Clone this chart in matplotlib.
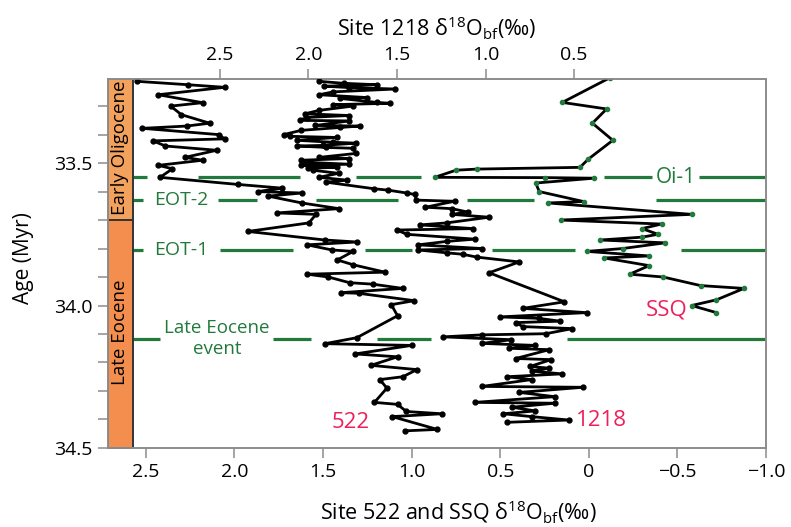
import matplotlib
matplotlib.use("Agg")
import matplotlib.pyplot as plt
from matplotlib.ticker import MultipleLocator

plt.rcParams["font.family"] = ["Open Sans", "DejaVu Sans"]
plt.rcParams["mathtext.fontset"] = "custom"
plt.rcParams["mathtext.rm"] = "Open Sans"
plt.rcParams["mathtext.it"] = "Open Sans"
plt.rcParams["mathtext.bf"] = "Open Sans"

# ---------------------------------------------------------------------------
# data: delta18O (permil) vs age (Myr)
# ---------------------------------------------------------------------------
# Site 522 (bottom axis)
d522 = [2.55, 2.26, 2.055, 2.43, 2.18, 2.36, 2.30, 2.14, 2.27, 2.52, 2.09, 2.055,
        2.46, 2.39, 2.10, 2.28, 2.18, 2.43, 2.35, 2.42, 1.98, 1.73, 1.87, 1.62,
        1.81, 1.62, 1.41, 1.76, 1.54, 1.58, 1.925, 1.49, 1.31, 1.59, 1.45, 1.33,
        1.42, 1.33, 1.15, 1.59, 1.47, 1.35, 1.22, 1.05, 1.40, 1.30, 0.985, 1.115,
        1.08, 1.31, 1.49, 1.00, 1.32, 1.08, 1.23, 0.97, 1.05, 1.18, 1.14, 1.21,
        1.08, 1.03, 0.83, 1.11, 0.855, 1.04]
age522 = [33.213, 33.225, 33.234, 33.26, 33.288, 33.30, 33.33, 33.36, 33.37, 33.378,
          33.40, 33.415, 33.422, 33.44, 33.455, 33.48, 33.49, 33.508, 33.52, 33.55,
          33.575, 33.588, 33.60, 33.605, 33.616, 33.64, 33.66, 33.675, 33.68, 33.71,
          33.74, 33.77, 33.777, 33.787, 33.805, 33.81, 33.84, 33.857, 33.883, 33.89,
          33.90, 33.92, 33.925, 33.94, 33.955, 33.957, 33.983, 33.997, 34.036, 34.113,
          34.134, 34.14, 34.17, 34.18, 34.21, 34.225, 34.25, 34.26, 34.29, 34.34,
          34.347, 34.372, 34.38, 34.39, 34.435, 34.44]

# Site 1218 (top axis)
d1218 = [1.94, 1.80, 1.61, 1.91, 1.77, 1.51, 1.86, 1.94, 1.67, 1.82, 1.615, 1.54,
         1.86, 1.75, 1.94, 2.02, 1.77, 2.01, 2.05, 1.77, 1.96, 1.71, 1.82, 2.04,
         2.14, 2.105, 1.84, 2.065, 1.86, 1.73, 1.92, 2.065, 1.90, 1.75, 1.73, 1.94,
         1.77, 2.04, 2.02, 1.77, 2.04, 1.84, 2.00, 1.975, 1.83, 1.94, 1.78, 1.90,
         1.63, 1.55, 1.445, 1.40, 1.39, 1.175, 1.34, 1.19, 1.10, 1.19, 0.98, 1.22,
         1.37, 1.07, 1.50, 1.445, 1.06, 1.22, 1.38, 1.02, 1.38, 1.22, 1.13, 1.05,
         0.81, 0.98, 0.555, 0.79, 0.43, 0.92, 0.70, 0.58, 0.83, 0.79, 0.51, 0.66,
         1.02, 1.24, 0.855, 1.02, 0.72, 0.87, 0.64, 0.83, 0.63, 0.75, 0.64, 0.74,
         0.57, 0.88, 0.74, 1.02, 0.45, 0.81, 0.61, 1.06, 0.61, 0.85, 0.72, 0.90,
         0.74, 0.53, 0.88]
age1218 = [33.213, 33.22, 33.225, 33.23, 33.235, 33.24, 33.25, 33.26, 33.27, 33.273,
           33.287, 33.29, 33.295, 33.30, 33.315, 33.327, 33.333, 33.34, 33.35, 33.352,
           33.368, 33.37, 33.375, 33.385, 33.40, 33.406, 33.41, 33.42, 33.427, 33.43,
           33.438, 33.44, 33.445, 33.448, 33.466, 33.48, 33.484, 33.49, 33.497, 33.504,
           33.508, 33.515, 33.518, 33.525, 33.536, 33.55, 33.56, 33.567, 33.59, 33.595,
           33.605, 33.61, 33.63, 33.634, 33.655, 33.66, 33.672, 33.68, 33.69, 33.71,
           33.717, 33.73, 33.735, 33.75, 33.767, 33.775, 33.787, 33.80, 33.805, 33.815,
           33.82, 33.83, 33.847, 33.885, 33.987, 34.01, 34.025, 34.04, 34.045, 34.055,
           34.06, 34.074, 34.081, 34.099, 34.103, 34.11, 34.12, 34.133, 34.14, 34.15,
           34.155, 34.186, 34.19, 34.214, 34.22, 34.23, 34.24, 34.25, 34.26, 34.284,
           34.287, 34.305, 34.32, 34.34, 34.343, 34.357, 34.37, 34.38, 34.39, 34.402,
           34.41]

# SSQ (bottom axis)
dssq = [-0.12, 0.15, -0.10, -0.02, -0.135, 0.005, 0.05, 0.63, 0.75, 0.87, 0.25,
        -0.03, 0.30, 0.28, 0.03, 0.23, -0.58, 0.16, -0.41, -0.30, -0.39, -0.30,
        -0.065, -0.43, -0.19, 0.012, -0.34, -0.086, -0.34, -0.23, -0.42, -0.63,
        -0.875, -0.72, -0.58, -0.72]
agessq = [33.20, 33.287, 33.31, 33.36, 33.42, 33.487, 33.515, 33.521, 33.525, 33.55,
          33.551, 33.553, 33.57, 33.60, 33.635, 33.64, 33.68, 33.70, 33.714, 33.73,
          33.75, 33.76, 33.77, 33.78, 33.80, 33.81, 33.826, 33.833, 33.86, 33.89,
          33.90, 33.93, 33.94, 33.98, 34.0, 34.025]

# events: age and broken-line segments (bottom-axis units)
event_names = ["Oi-1", "EOT-2", "EOT-1", "Late Eocene\nevent"]
event_ages = [33.55, 33.63, 33.805, 34.116]
event_segs = [
    [(2.573, 2.494), (2.207, 1.632), (1.317, 0.945), (-0.086, -0.356), (-0.621, -1.0)],
    [(2.573, 2.517), (2.094, 1.875), (1.542, 1.075), (0.686, 0.308), (-0.379, -1.0)],
    [(2.573, 2.517), (2.083, 1.672), (1.266, 1.001), (0.545, 0.077), (-0.52, -1.0)],
    [(2.573, 2.421), (1.784, 1.570), (1.193, 0.889), (0.123, -1.0)],
]
event_label_x = [-0.49, 2.30, 2.30, 2.10]

epochs = ["Early Oligocene", "Late Eocene"]
epoch_bounds = [(33.2, 33.7), (33.7, 34.5)]
epoch_colors = ["#F3A25E", "#F38E4F"]

GREEN = "#217A3B"
RED = "#EE1F5B"
GREY = "#8C8C8C"

XMIN, XMAX = 2.714, -1.0
SHIFT = 0.417          # top axis = bottom axis + SHIFT

fig = plt.figure(figsize=(7.91, 5.27), dpi=100)
ax = fig.add_axes([0.1365, 0.150, 0.832, 0.700])
ax.set_xlim(XMIN, XMAX)
ax.set_ylim(34.5, 33.205)

# epoch column
bar_l, bar_r = XMIN, 2.573
for (a0, a1), col, name in zip(epoch_bounds, epoch_colors, epochs):
    ax.fill_betweenx([a0, a1], bar_l, bar_r, facecolor=col, edgecolor="#333333",
                     linewidth=1.4, zorder=2)
    ax.text((bar_l + bar_r) / 2, (a0 + a1) / 2 - 0.005, name, rotation=90,
            ha="center", va="center", fontsize=13.5, zorder=3)

# event lines
for segs, a in zip(event_segs, event_ages):
    for x0, x1 in segs:
        ax.plot([x0, x1], [a, a], color=GREEN, lw=2.3, solid_capstyle="butt", zorder=1)
for name, a, lx in zip(event_names, event_ages, event_label_x):
    fs = 15 if name == "Oi-1" else (14 if name.startswith("EOT") else 13.5)
    ax.text(lx, a, name, color=GREEN, ha="center", va="center", fontsize=fs,
            linespacing=1.25, zorder=3)

# curves
ax.plot(d522, age522, color="black", lw=2, marker="o", ms=3.5, zorder=5)
ax.plot(dssq, agessq, color="black", lw=2, marker="o", ms=3, mfc=GREEN, mec=GREEN,
        zorder=5)

ax2 = ax.twiny()
ax2.set_xlim(XMIN + SHIFT, XMAX + SHIFT)
ax2.plot(d1218, age1218, color="black", lw=2, marker="o", ms=3.5, zorder=5)

ax.text(1.345, 34.41, "522", color=RED, fontsize=16, ha="center", va="center")
ax.text(-0.07, 34.405, "1218", color=RED, fontsize=16, ha="center", va="center")
ax.text(-0.44, 34.015, "SSQ", color=RED, fontsize=16, ha="center", va="center")

# axes styling
ax.set_xticks([2.5, 2.0, 1.5, 1.0, 0.5, 0, -0.5, -1.0])
ax.set_xticklabels(["2.5", "2.0", "1.5", "1.0", "0.5", "0", "\u22120.5", "\u22121.0"])
ax.yaxis.set_minor_locator(MultipleLocator(0.1))
ax.set_yticks([33.5, 34.0, 34.5])
ax.set_yticklabels(["33.5", "34.0", "34.5"])
ax2.set_xticks([2.5, 2.0, 1.5, 1.0, 0.5])
ax2.set_xticklabels(["2.5", "2.0", "1.5", "1.0", "0.5"])

for a in (ax, ax2):
    for sp in a.spines.values():
        sp.set_color(GREY)
        sp.set_linewidth(1.2)
    a.tick_params(which="both", direction="out", length=7, width=1.1, color=GREY,
                  labelsize=14, pad=4)

ax.set_ylabel("Age (Myr)", fontsize=15)
ax.yaxis.set_label_coords(-0.112, 0.515)
ax.set_xlabel(r"Site 522 and SSQ $\mathrm{\delta}^{18}\mathrm{O}_{\mathrm{bf}}$(‰)", fontsize=15.5)
ax.xaxis.set_label_coords(0.532, -0.135)
ax2.set_xlabel(r"Site 1218 $\mathrm{\delta}^{18}\mathrm{O}_{\mathrm{bf}}$(‰)", fontsize=15.5)
ax2.xaxis.set_label_coords(0.5, 1.115)

fig.savefig("out.png", dpi=100)
